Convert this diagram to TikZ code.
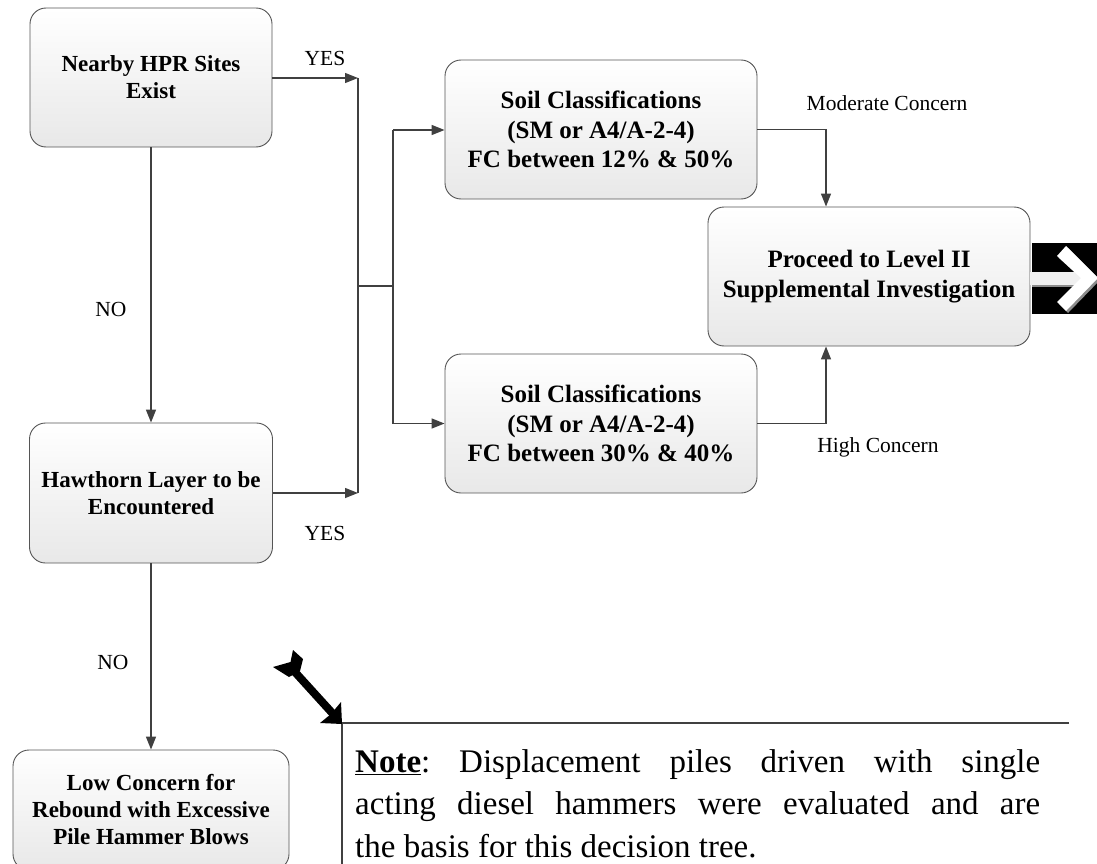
\documentclass[tikz,border=0pt]{standalone}
\usepackage{fontspec}
\setmainfont{Liberation Serif}
\usetikzlibrary{arrows.meta,calc}
\definecolor{linec}{HTML}{404040}
\definecolor{boxline}{HTML}{555555}
\frenchspacing
\begin{document}
\begin{tikzpicture}[x=1pt,y=-1pt,
  box/.style={draw=boxline, line width=0.9pt, rounded corners=16pt, top color=white, bottom color=black!9,
     align=center, inner sep=0pt, font=\fontsize{23}{27}\selectfont\bfseries},
  bigbox/.style={box, font=\fontsize{25}{29.5}\selectfont\bfseries},
  conn/.style={draw=linec, line width=1.4pt},
  arr/.style={conn, -{Triangle[length=13pt,width=10pt]}},
  lbl/.style={font=\fontsize{21.5}{26}\selectfont, inner sep=0pt}]
\useasboundingbox (0,0) rectangle (1097,864);

% boxes
\node[box, minimum width=242pt, minimum height=139pt] (A) at (151,77.5) {Nearby HPR Sites\\Exist};
\node[bigbox, minimum width=312pt, minimum height=139pt] (B) at (601,129.5) {Soil Classifications\\(SM or A4/A-2-4)\\FC between 12\% \& 50\%};
\node[bigbox, minimum width=322pt, minimum height=139pt] (C) at (869,276.5) {Proceed to Level II\\Supplemental Investigation};
\node[bigbox, minimum width=312pt, minimum height=139pt] (D) at (601,423.5) {Soil Classifications\\(SM or A4/A-2-4)\\FC between 30\% \& 40\%};
\node[box, minimum width=243pt, minimum height=140pt] (E) at (151,493) {Hawthorn Layer to be\\Encountered};
\node[box, minimum width=276pt, minimum height=120pt] (F) at (151,810) {Low Concern for\\Rebound with Excessive\\Pile Hammer Blows};

% junction coordinates
\coordinate (j1) at (358,78);
\coordinate (j2) at (358,493);
\coordinate (j3) at (358,286);
\coordinate (j4) at (393,286);
\coordinate (j5) at (393,130);
\coordinate (j6) at (393,423.5);

% connectors
\draw[arr] (A.east |- j1) -- (j1);
\draw[arr] (E.east |- j2) -- (j2);
\draw[conn] (j1) -- (j2);
\draw[conn] (j3) -- (j4);
\draw[conn] (j5) -- (j6);
\draw[arr] (j5) -- (B.west |- j5);
\draw[arr] (j6) -- (D.west |- j6);
\draw[arr] (B.east) -| ([xshift=-43pt]C.north);
\draw[arr] (D.east) -| ([xshift=-43pt]C.south);
\draw[arr] (A.south) -- (E.north);
\draw[arr] (E.south) -- (F.north);

% labels
\node[lbl] (yes1) at (325,58) {YES};
\node[lbl] (yes2) at (325,533) {YES};
\node[lbl] (no1) at (111,309) {NO};
\node[lbl] (no2) at (113,662) {NO};
\node[lbl] (mod) at (887,103) {Moderate Concern};
\node[lbl] (high) at (878,447) {High Concern};

% right black arrow icon
\fill[black] (1032,243) rectangle (1097,314);
\fill[black!45] (1032,274) rectangle (1085,287);
\fill[black!45] (1059,258) -- (1068,248) -- (1100,280) -- (1068,313) -- (1059,304) -- (1083,280) -- cycle;
\fill[black!6] (1030,272) rectangle (1083,285);
\fill[white] (1057,256) -- (1066,246) -- (1098,278) -- (1066,311) -- (1057,302) -- (1081,278) -- cycle;

% note frame
\coordinate (n0) at (342,723);
\coordinate (n1) at (1069,723);
\coordinate (n2) at (342,880);
\draw[draw=linec, line width=1.3pt] (n1) -- (n0) -- (n2);

% black pointer arrow
\draw[line width=8pt, line cap=butt] (294,671) -- (334,715);
\fill (342,724) -- (320,723) -- (331,714) -- (341,702) -- cycle;
\fill (293,650) -- (303,659) -- (300,671) -- (289,677) -- (273,667) -- (290.5,662) -- cycle;

% note text
\node[anchor=north west, inner sep=0pt, text width=685pt, align=justify,
      font=\fontsize{33}{42.5}\selectfont] (note) at (355,749)
  {\underline{\textbf{Note}}: Displacement piles driven with single\linebreak
   acting diesel hammers were evaluated and are\linebreak
   the basis for this decision tree.};
\end{tikzpicture}
\end{document}
